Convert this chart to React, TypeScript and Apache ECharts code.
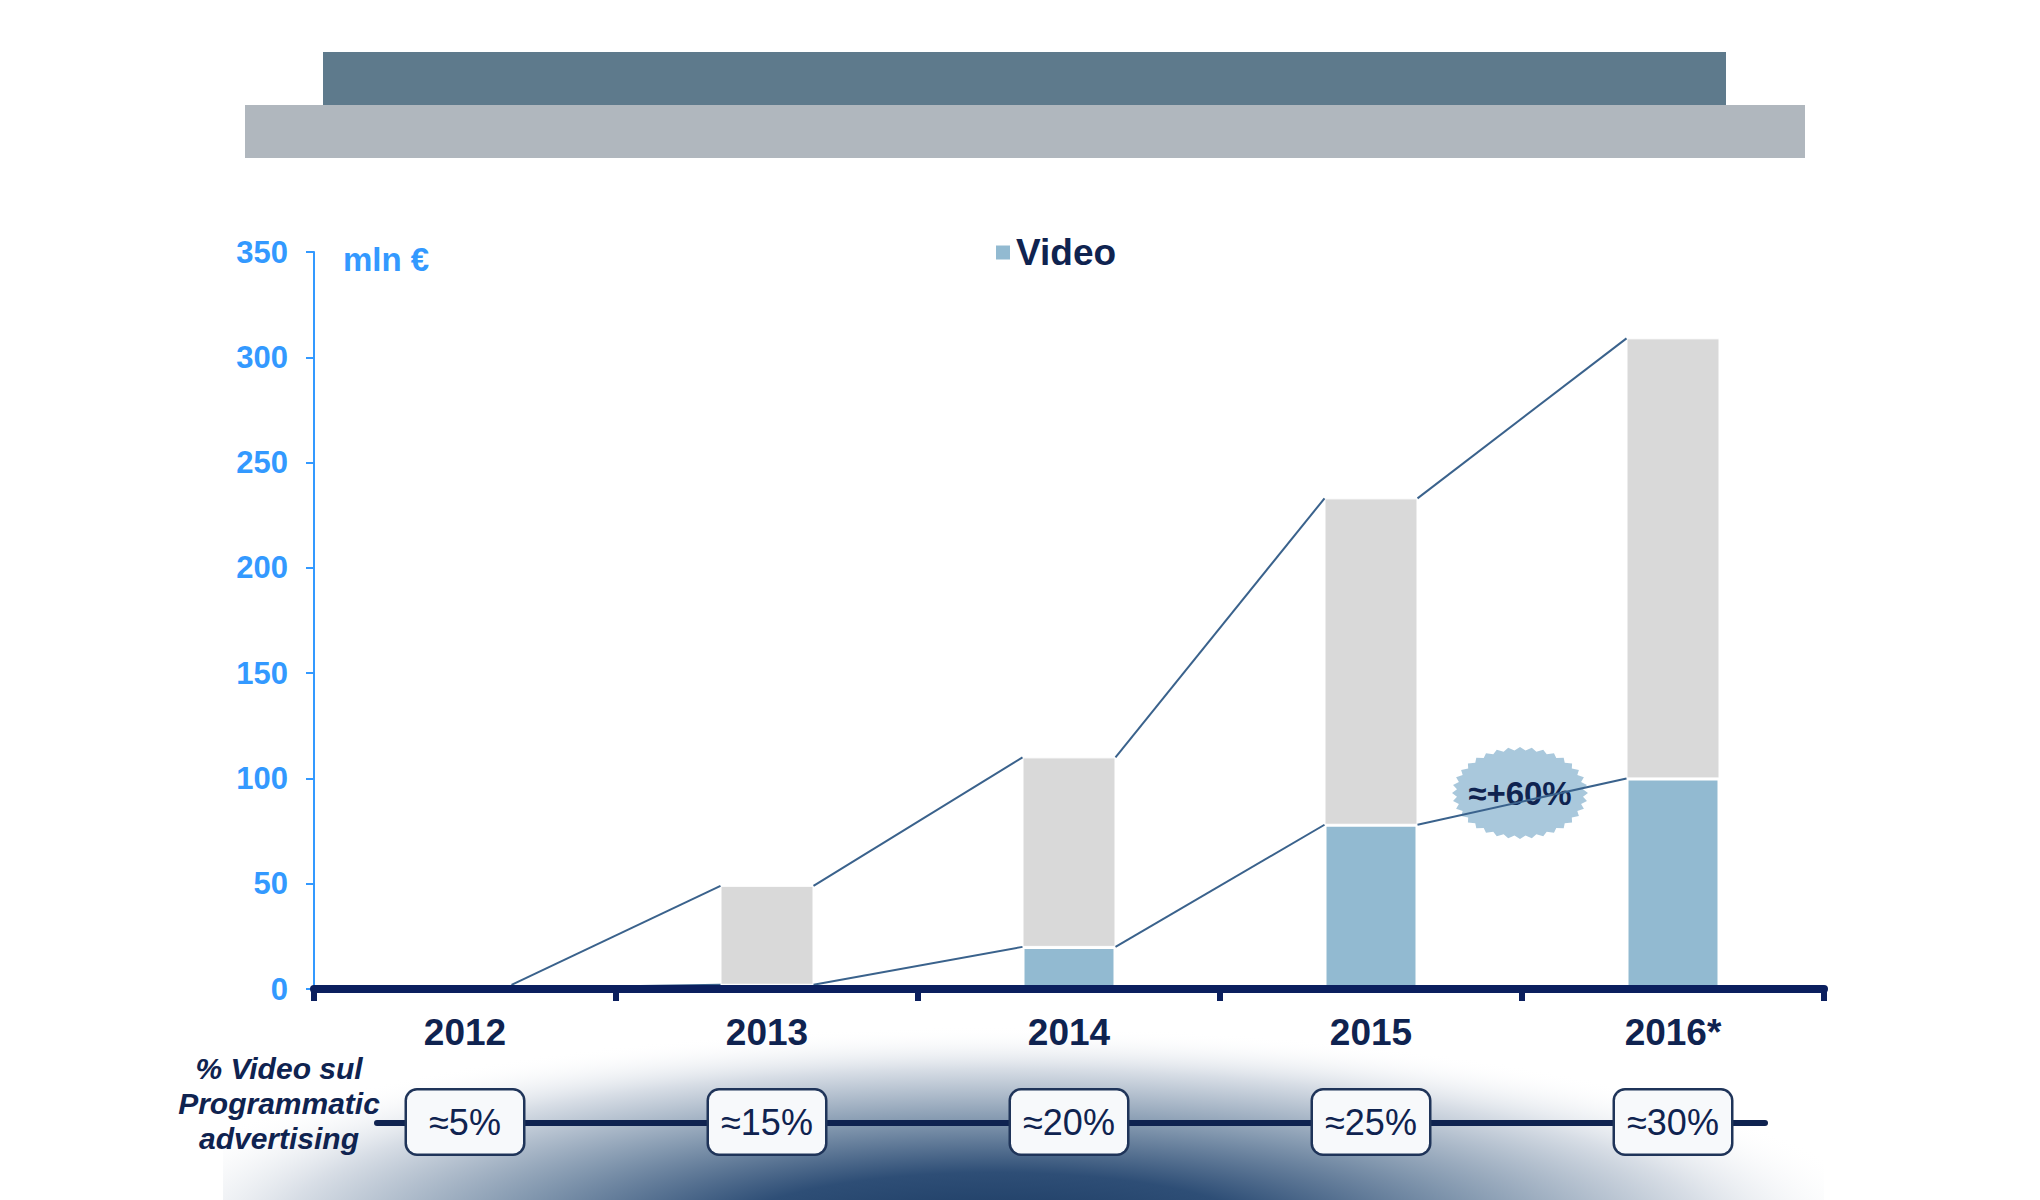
import React, { useEffect, useRef } from 'react';
import * as echarts from 'echarts';

// values (mln €)
const years = ['2012', '2013', '2014', '2015', '2016*'];
const totalSpend = [2, 49, 110, 233, 309];
const videoSpend = [0.5, 2, 20, 78, 100];
const videoShare = ['≈5%', '≈15%', '≈20%', '≈25%', '≈30%'];
const growthLabel = '≈+60%';
const unitLabel = 'mln €';
const shareTitle = '% Video sul\nProgrammatic\nadvertising';

const FONT = '"Liberation Sans", Arial, Helvetica, sans-serif';
const NAVY = '#0F2350';
const BLUE = '#3399FF';
const BAR_W = 93;

// serrated ellipse for the growth badge
const badgePoints = (rx: number, ry: number, teeth: number) => {
  const pts: number[][] = [];
  for (let k = 0; k < teeth * 2; k++) {
    const a = (Math.PI * k) / teeth;
    const f = k % 2 === 0 ? 1 : 0.93;
    pts.push([Math.cos(a) * rx * f, Math.sin(a) * ry * f]);
  }
  return pts;
};

const connector = (name: string, vals: number[]) => ({
  type: 'custom',
  name,
  silent: true,
  z: 5,
  clip: false,
  data: vals.slice(0, -1).map((v, i) => [i, v, vals[i + 1]]),
  encode: { x: 0, y: [1, 2] },
  renderItem: (params: any, api: any) => {
    const i = api.value(0);
    const a = api.coord([i, api.value(1)]);
    const b = api.coord([i + 1, api.value(2)]);
    return {
      type: 'line',
      shape: { x1: a[0] + BAR_W / 2, y1: a[1], x2: b[0] - BAR_W / 2, y2: b[1] },
      style: { stroke: '#3A628C', lineWidth: 2 }
    };
  }
});

const App: React.FC = () => {
  const chartRef = useRef<HTMLDivElement>(null);

  useEffect(() => {
    if (!chartRef.current) return;
    const chart = echarts.init(chartRef.current, undefined, { renderer: 'svg' });

    const option: any = {
      animation: false,
      backgroundColor: '#FFFFFF',
      textStyle: { fontFamily: FONT },
      grid: { left: 314, right: 216, top: 252, bottom: 211 },
      legend: {
        data: ['Video'],
        left: 994,
        top: 234,
        padding: 0,
        icon: 'rect',
        itemWidth: 16,
        itemHeight: 16,
        itemGap: 10,
        selectedMode: false,
        textStyle: { color: NAVY, fontSize: 37, fontWeight: 'bold', fontFamily: FONT }
      },
      xAxis: [
        {
          type: 'category',
          data: years,
          z: 10,
          axisLine: { lineStyle: { color: '#0B1F5E', width: 8 } },
          axisTick: { show: true, length: 12, lineStyle: { color: '#0B1F5E', width: 6 } },
          axisLabel: { color: NAVY, fontSize: 37, fontWeight: 'bold', fontFamily: FONT, margin: 25 },
          splitLine: { show: false }
        },
        {
          type: 'category',
          data: videoShare,
          position: 'bottom',
          offset: 133,
          z: 10,
          axisLine: { show: false },
          axisTick: { show: false },
          axisLabel: {
            color: NAVY,
            fontSize: 36,
            fontFamily: FONT,
            margin: 0,
            verticalAlign: 'middle',
            align: 'center',
            width: 92,
            height: 47,
            lineHeight: 47,
            padding: [8, 12],
            backgroundColor: '#F7F9FB',
            borderColor: '#1F3459',
            borderWidth: 2.5,
            borderRadius: 10
          }
        }
      ],
      yAxis: {
        type: 'value',
        min: 0,
        max: 350,
        interval: 50,
        axisLine: { show: true, lineStyle: { color: BLUE, width: 2 } },
        axisTick: { show: true, length: 8, lineStyle: { color: BLUE, width: 2 } },
        axisLabel: { color: BLUE, fontSize: 31, fontWeight: 'bold', fontFamily: FONT, margin: 26 },
        splitLine: { show: false }
      },
      series: [
        {
          name: 'Video',
          type: 'bar',
          stack: 'spend',
          barWidth: BAR_W,
          data: videoSpend,
          itemStyle: { color: '#92BAD1', borderColor: '#FFFFFF', borderWidth: 2 }
        },
        {
          name: 'Altro',
          type: 'bar',
          stack: 'spend',
          barWidth: BAR_W,
          data: totalSpend.map((t, i) => t - videoSpend[i]),
          itemStyle: { color: '#D9D9D9', borderColor: '#FFFFFF', borderWidth: 1 }
        },
        connector('totale', totalSpend),
        connector('video', videoSpend)
      ],
      graphic: [
        // bottom shading
        {
          type: 'rect',
          z: -10,
          silent: true,
          shape: { x: 223, y: 828, width: 1601, height: 372 },
          style: {
            fill: new echarts.graphic.RadialGradient(0.482, 1.094, 0.56, [
              { offset: 0, color: '#193860' },
              { offset: 0.3, color: '#2E4E76' },
              { offset: 0.55, color: '#8398AF' },
              { offset: 0.8, color: '#D8DEE6' },
              { offset: 1, color: 'rgba(255,255,255,0)' }
            ])
          }
        },
        // header bands
        { type: 'rect', silent: true, shape: { x: 245, y: 105, width: 1560, height: 53 }, style: { fill: '#B0B7BE' } },
        { type: 'rect', silent: true, shape: { x: 323, y: 52, width: 1403, height: 53 }, style: { fill: '#5E7A8C' } },
        {
          type: 'text',
          x: 343,
          y: 259,
          style: {
            text: unitLabel,
            fill: BLUE,
            fontSize: 33,
            fontWeight: 'bold',
            fontFamily: FONT,
            align: 'left',
            verticalAlign: 'middle'
          }
        },
        {
          type: 'text',
          x: 279,
          y: 1103,
          style: {
            text: shareTitle,
            fill: NAVY,
            fontSize: 30,
            fontWeight: 'bold',
            fontStyle: 'italic',
            fontFamily: FONT,
            lineHeight: 35,
            align: 'center',
            verticalAlign: 'middle'
          }
        },
        {
          type: 'line',
          z: 1,
          silent: true,
          shape: { x1: 377, y1: 1123, x2: 1765, y2: 1123 },
          style: { stroke: NAVY, lineWidth: 6, lineCap: 'round' }
        },
        {
          type: 'group',
          x: 1520,
          y: 793,
          z: 20,
          children: [
            {
              type: 'polygon',
              shape: { points: badgePoints(68, 46, 36) },
              style: { fill: '#A9C8DC' }
            },
            {
              type: 'text',
              x: 0,
              y: 0,
              style: {
                text: growthLabel,
                fill: NAVY,
                fontSize: 33,
                fontWeight: 'bold',
                fontFamily: FONT,
                align: 'center',
                verticalAlign: 'middle'
              }
            }
          ]
        }
      ]
    };

    chart.setOption(option);

    return () => {
      chart.dispose();
    };
  }, []);

  return (
    <div
      ref={chartRef}
      style={{ position: 'absolute', left: 0, top: 0, width: '2040px', height: '1200px' }}
    />
  );
};

export default App;
